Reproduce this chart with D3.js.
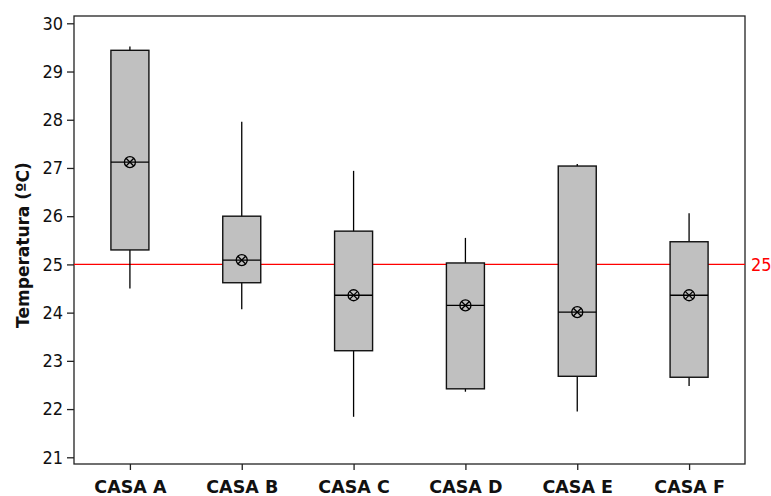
<!DOCTYPE html>
<html>
<head>
<meta charset="utf-8">
<script src="https://cdn.jsdelivr.net/npm/d3@7"></script>
<style>
  body { margin: 0; background: #fff; }
  svg { display: block; }
</style>
</head>
<body>
<svg id="chart" width="771" height="496"></svg>
<script>
const categories = ["CASA A", "CASA B", "CASA C", "CASA D", "CASA E", "CASA F"];
const whiskerLow = [24.50, 24.07, 21.84, 22.36, 21.95, 22.48];
const q1 =         [25.30, 24.62, 23.21, 22.42, 22.68, 22.66];
const medians =    [27.12, 25.09, 24.36, 24.15, 24.01, 24.36];
const means =      [27.12, 25.09, 24.36, 24.15, 24.01, 24.36];
const q3 =         [29.44, 26.00, 25.69, 25.03, 27.04, 25.47];
const whiskerHigh = [29.52, 27.96, 26.94, 25.55, 27.08, 26.06];
const yTicks = [21, 22, 23, 24, 25, 26, 27, 28, 29, 30];
const refValue = 25;

const svg = d3.select("#chart");
const mLeft = 74, mRight = 745, mTop = 16, mBottom = 464;

const x = d3.scalePoint().domain(categories).range([mLeft, mRight]).padding(0.5);
const y = d3.scaleLinear().domain([21, 30]).range([457.3, 23.3]);

const boxes = categories.map((c, i) => ({
  cat: c, lo: whiskerLow[i], q1: q1[i], med: medians[i], mean: means[i], q3: q3[i], hi: whiskerHigh[i]
}));

// frame
svg.append("rect")
  .attr("x", mLeft).attr("y", mTop)
  .attr("width", mRight - mLeft).attr("height", mBottom - mTop)
  .attr("fill", "none").attr("stroke", "#222").attr("stroke-width", 1.3);

// axes
const yAxis = svg.append("g")
  .attr("transform", `translate(${mLeft},0)`)
  .call(d3.axisLeft(y).tickValues(yTicks).tickSize(7).tickPadding(4).tickFormat(d3.format("d")));
yAxis.select(".domain").remove();
yAxis.selectAll(".tick line").attr("stroke", "#222").attr("stroke-width", 1.3);
yAxis.selectAll(".tick text")
  .style("font-family", "'DejaVu Sans Condensed', 'DejaVu Sans', sans-serif")
  .style("font-size", "18px").attr("fill", "#111");

const xAxis = svg.append("g")
  .attr("transform", `translate(0,${mBottom})`)
  .call(d3.axisBottom(x).tickSize(6));
xAxis.select(".domain").remove();
xAxis.selectAll(".tick line").attr("stroke", "#222").attr("stroke-width", 1.3);
xAxis.selectAll(".tick text")
  .attr("y", 29).attr("dy", null)
  .style("font-family", "'DejaVu Sans', sans-serif")
  .style("font-weight", "bold").style("font-size", "17.5px").attr("fill", "#111");

// y title
svg.append("text")
  .attr("transform", `translate(29,245) rotate(-90)`)
  .attr("text-anchor", "middle")
  .style("font-family", "'DejaVu Sans', sans-serif")
  .style("font-weight", "bold").style("font-size", "17px").attr("fill", "#111")
  .text("Temperatura (ºC)");

// reference line
svg.append("line")
  .attr("x1", mLeft).attr("x2", mRight)
  .attr("y1", y(refValue)).attr("y2", y(refValue))
  .attr("stroke", "#ff0000").attr("stroke-width", 1.3);
svg.append("text")
  .attr("x", 751).attr("y", y(refValue))
  .attr("dy", "0.36em")
  .style("font-family", "'DejaVu Sans Condensed', 'DejaVu Sans', sans-serif")
  .style("font-size", "18px").attr("fill", "#ff0000")
  .text(refValue);

const bw = 38;
const g = svg.selectAll(".box").data(boxes).enter().append("g").attr("class", "box");

g.append("line")
  .attr("x1", d => x(d.cat)).attr("x2", d => x(d.cat))
  .attr("y1", d => y(d.hi)).attr("y2", d => y(d.lo))
  .attr("stroke", "#000").attr("stroke-width", 1.3);

g.append("rect")
  .attr("x", d => x(d.cat) - bw / 2).attr("width", bw)
  .attr("y", d => y(d.q3)).attr("height", d => y(d.q1) - y(d.q3))
  .attr("fill", "#c0c0c0").attr("stroke", "#111").attr("stroke-width", 1.4);

g.append("line")
  .attr("x1", d => x(d.cat) - bw / 2).attr("x2", d => x(d.cat) + bw / 2)
  .attr("y1", d => y(d.med)).attr("y2", d => y(d.med))
  .attr("stroke", "#000").attr("stroke-width", 1.3);

// mean symbol: circle with cross
const r = 5.5, k = r * 0.707;
g.append("circle")
  .attr("cx", d => x(d.cat)).attr("cy", d => y(d.mean)).attr("r", r)
  .attr("fill", "none").attr("stroke", "#000").attr("stroke-width", 1.3);
g.append("path")
  .attr("d", d => {
    const cx = x(d.cat), cy = y(d.mean);
    return `M${cx - k},${cy - k}L${cx + k},${cy + k}M${cx + k},${cy - k}L${cx - k},${cy + k}`;
  })
  .attr("stroke", "#000").attr("stroke-width", 1.3);
</script>
</body>
</html>
